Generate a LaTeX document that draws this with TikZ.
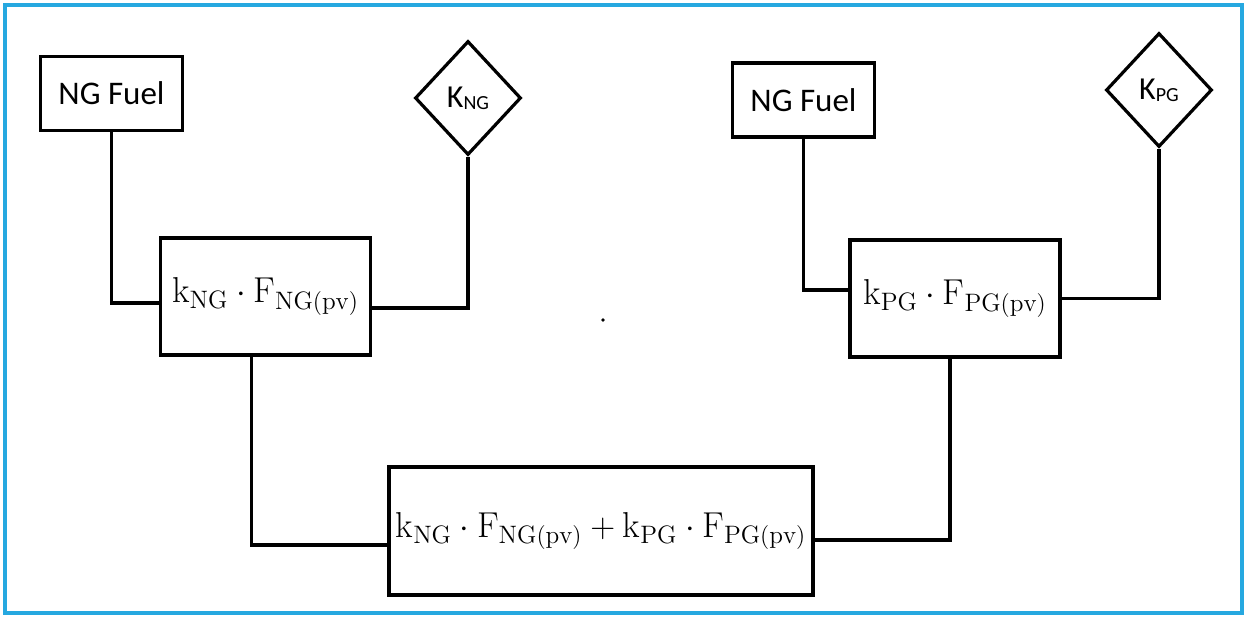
\documentclass[tikz,border=0pt]{standalone}
\usepackage{fontspec}
\setmainfont{Carlito}
\setmathrm{Latin Modern Roman}
\usepackage{tikz}
\usetikzlibrary{positioning,shapes.geometric,calc}
\definecolor{framecol}{RGB}{38,168,224}
\newcommand\lowsub[1]{\raisebox{-0.8pt}{\fontsize{10}{11}\selectfont #1}}

\begin{document}
\begin{tikzpicture}[
    x=0.5pt, y=-0.5pt,
    fuel/.style={rectangle, draw, line width=1.6pt, minimum width=71pt, minimum height=37pt, align=center, font=\fontsize{16.5}{19}\selectfont},
    gain/.style={diamond, draw, line width=1.6pt, inner sep=0pt, minimum width=53pt, minimum height=57pt, font=\fontsize{16}{18}\selectfont},
    block/.style={rectangle, draw, line width=1.6pt, minimum width=105pt, minimum height=58.5pt, align=center, font=\fontsize{18}{21}\selectfont},
    sumbox/.style={block, minimum width=212pt, minimum height=64pt},
    link/.style={line width=1.6pt},
    frame/.style={draw=framecol, line width=1.8pt}
]
% ============================================================
% FRAME
% ============================================================
\useasboundingbox (0,0) rectangle (1247,616);
\draw[frame] (5,5) rectangle (1242,613);

% ============================================================
% BLOCKS
% ============================================================
\node[fuel]  (fuelNG) at (111.5,93.5) {NG Fuel};
\node[gain]  (kNG)    at (468,98)     {K\lowsub{NG}};
\node[block] (prodNG) at (265.5,296.5) {$\mathrm{k_{NG}\cdot F_{NG(pv)}}$};

\node[fuel]  (fuelPG) at (803.5,100)  {NG Fuel};
\node[gain]  (kPG)    at (1159,90)    {K\lowsub{PG}};
\node[block] (prodPG) at (955,298.5)  {$\mathrm{k_{PG}\cdot F_{PG(pv)}}$};

\node[sumbox] (total) at (601,531) {$\mathrm{k_{NG}\cdot F_{NG(pv)} + k_{PG}\cdot F_{PG(pv)}}$};

\coordinate (speck) at (603,320);
\fill (speck) circle (0.9pt);

% ============================================================
% LINKS
% ============================================================
\draw[link] (fuelNG.south) |- ([yshift=-3.25pt]prodNG.west);
\draw[link] (kNG.south) |- ([yshift=-5.75pt]prodNG.east);
\draw[link] (fuelPG.south) |- ([yshift=4.25pt]prodPG.west);
\draw[link] (kPG.south) |- (prodPG.east);
\draw[link] ([xshift=-7pt]prodNG.south) |- ([yshift=-7pt]total.west);
\draw[link] ([xshift=-2.5pt]prodPG.south) |- ([yshift=-4.5pt]total.east);

\end{tikzpicture}
\end{document}
